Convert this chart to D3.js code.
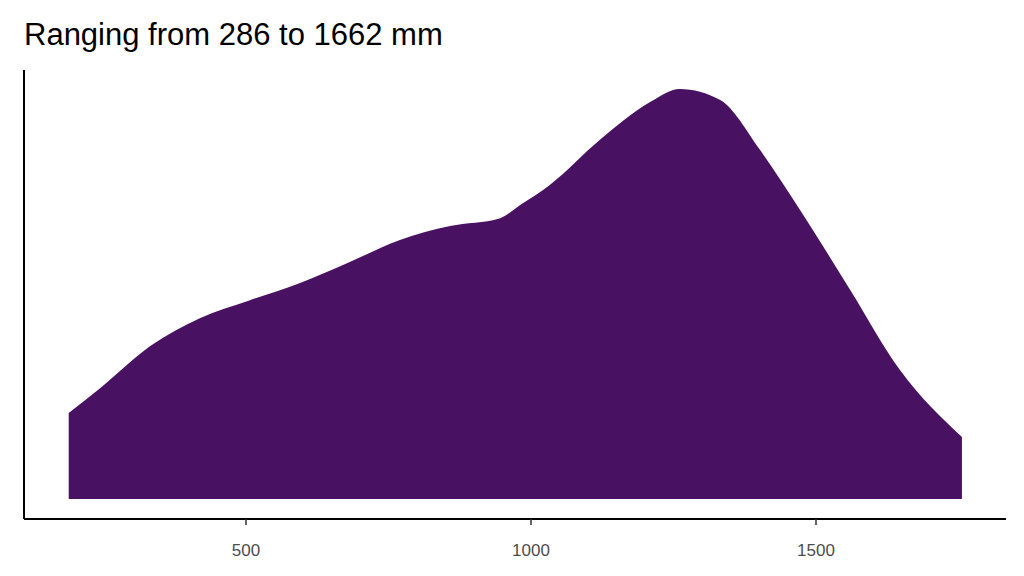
<!DOCTYPE html>
<html><head><meta charset="utf-8">
<script src="https://cdn.jsdelivr.net/npm/d3@7"></script>
<style>body{margin:0;background:#fff}</style>
</head><body>
<svg id="svg1" width="1024" height="576"></svg>
<script>
// density estimate (relative to peak)
var rainX = [189, 244, 332, 419, 507, 595, 682, 770, 858, 946, 981, 1033, 1121, 1209, 1261, 1332, 1402, 1472, 1560, 1647, 1756];
var density = [0.21, 0.27, 0.373, 0.441, 0.485, 0.527, 0.578, 0.632, 0.666, 0.685, 0.717, 0.766, 0.876, 0.968, 1.0, 0.973, 0.851, 0.705, 0.51, 0.315, 0.151];
var xTicks = [500, 1000, 1500];
var title = 'Ranging from 286 to 1662 mm';

var svg = d3.select('#svg1');
var x = d3.scaleLinear().domain([500, 1500]).range([246, 816]);
var y = d3.scaleLinear().domain([0, 1]).range([499, 89]);

var pts = rainX.map(function(d, i) { return [d, density[i]]; });

svg.append('path')
    .datum(pts)
    .attr('fill', '#481161')
    .attr('d', d3.area().x(function(d) { return x(d[0]); })
        .y0(y(0)).y1(function(d) { return y(d[1]); })
        .curve(d3.curveMonotoneX));

svg.append('line').attr('x1', 24).attr('x2', 1006).attr('y1', 519).attr('y2', 519)
    .attr('stroke', '#000').attr('stroke-width', 2);
svg.append('line').attr('x1', 24).attr('x2', 24).attr('y1', 70).attr('y2', 519)
    .attr('stroke', '#000').attr('stroke-width', 2);

xTicks.forEach(function(t) {
    svg.append('line').attr('x1', x(t)).attr('x2', x(t)).attr('y1', 519).attr('y2', 525)
        .attr('stroke', '#333').attr('stroke-width', 1.5);
    svg.append('text').attr('x', x(t)).attr('y', 556).attr('text-anchor', 'middle')
        .attr('font-family', 'Liberation Sans, Arial').attr('font-size', 17)
        .attr('fill', '#4d4d4d').text(t);
});

svg.append('text').attr('x', 24).attr('y', 45)
    .attr('font-family', 'Liberation Sans, Arial').attr('font-size', 31)
    .attr('fill', '#000').text(title);
</script>
</body></html>
